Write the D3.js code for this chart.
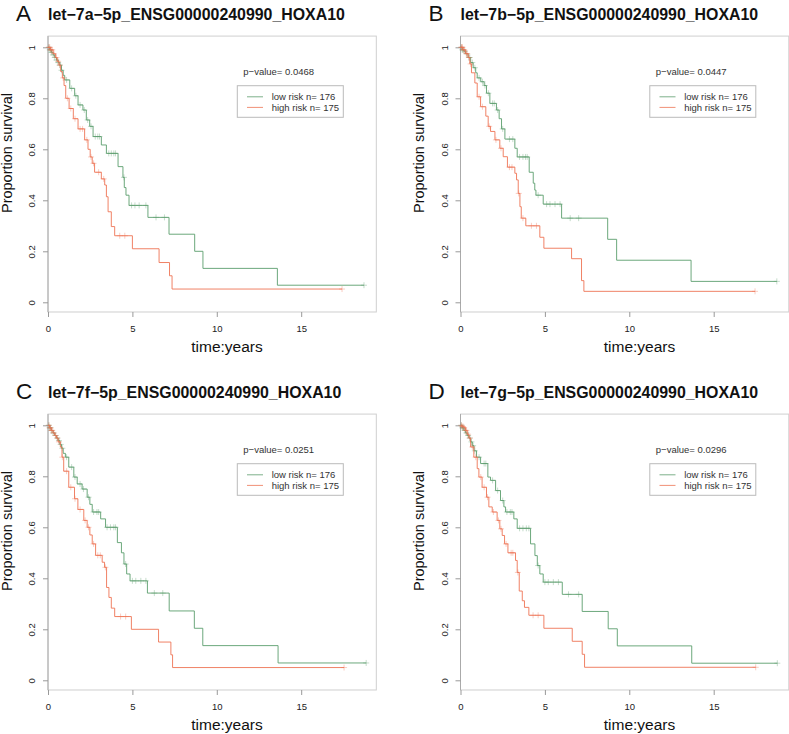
<!DOCTYPE html>
<html><head><meta charset="utf-8">
<script src="https://cdn.jsdelivr.net/npm/d3@7/dist/d3.min.js"></script>
<style>body{margin:0;background:#fff} svg{display:block} text{font-family:"Liberation Sans",Arial,sans-serif}</style>
</head><body><svg id="c" width="789" height="734"></svg>
<script>
const panelLetters = ["A","B","C","D"];
const panelTitles = ["let\u22127a\u22125p_ENSG00000240990_HOXA10","let\u22127b\u22125p_ENSG00000240990_HOXA10","let\u22127f\u22125p_ENSG00000240990_HOXA10","let\u22127g\u22125p_ENSG00000240990_HOXA10"];
const pValues = ["0.0468","0.0447","0.0251","0.0296"];
const xTickValues = [0,5,10,15];
const yTickValues = [0,0.2,0.4,0.6,0.8,1];
const legendLabels = ["low risk n= 176","high risk n= 175"];
const xLabel = "time:years";
const yLabel = "Proportion survival";

// Panel A
const aLowT = [0.1,0.2,0.3,0.4,0.5,0.6,0.7,0.8,0.9,0.99,1.29,1.58,1.78,2.07,2.27,2.47,2.67,3.16,3.46,4.15,4.44,4.52,4.62,4.8,5.92,7.17,8.69,9.18,13.59];
const aLowS = [0.99,0.98,0.97,0.96,0.95,0.94,0.93,0.91,0.89,0.872,0.839,0.81,0.774,0.754,0.715,0.69,0.65,0.617,0.584,0.532,0.49,0.45,0.42,0.38,0.333,0.267,0.20,0.133,0.067];
const aLowEnd = 18.72;
const aLowC = [0.05,0.1,0.15,0.2,0.3,0.4,0.5,0.6,0.7,0.8,1.1,1.4,1.65,1.9,2.15,2.35,2.55,2.8,2.95,3.05,3.6,3.75,3.9,4.0,4.5,4.95,5.15,5.4,5.8,6.4,6.9,18.72];
const aHighT = [0.15,0.3,0.45,0.55,0.65,0.75,0.85,0.95,1.05,1.25,1.5,1.78,2.17,2.37,2.5,2.62,2.76,3.16,3.36,3.46,3.56,3.75,3.95,5.0,6.58,7.2,7.35];
const aHighS = [0.99,0.975,0.96,0.945,0.93,0.905,0.88,0.85,0.80,0.76,0.72,0.68,0.637,0.60,0.57,0.545,0.51,0.484,0.46,0.414,0.355,0.297,0.261,0.21,0.156,0.104,0.052];
const aHighEnd = 17.42;
const aHighC = [0.05,0.1,0.15,0.2,0.25,0.35,0.5,0.6,0.7,0.9,1.15,1.35,1.6,1.9,2.05,2.3,2.55,2.7,3.0,3.3,4.25,4.55,17.42];

// Panel B
const bLowT = [0.1,0.2,0.3,0.45,0.6,0.75,0.9,0.99,1.2,1.4,1.54,1.74,2.13,2.29,2.43,2.63,3.22,3.36,4.07,4.31,4.4,4.47,4.9,5.99,8.72,9.25,13.66];
const bLowS = [0.99,0.985,0.975,0.96,0.94,0.92,0.90,0.88,0.865,0.85,0.82,0.78,0.754,0.72,0.68,0.64,0.604,0.57,0.51,0.467,0.44,0.42,0.385,0.33,0.247,0.165,0.082];
const bLowEnd = 18.74;
const bLowC = [0.05,0.1,0.15,0.25,0.35,0.5,0.55,0.7,0.85,1.1,1.3,1.45,1.65,1.9,2.0,2.2,2.5,2.9,3.1,3.5,3.7,3.85,3.95,4.6,5.1,5.3,5.6,5.9,6.5,7.0,18.74];
const bHighT = [0.15,0.3,0.45,0.55,0.65,0.85,0.99,1.19,1.5,1.64,1.78,2.04,2.33,2.53,2.78,3.22,3.32,3.42,3.52,3.6,3.87,4.70,4.94,6.58,7.17,7.31];
const bHighS = [0.99,0.975,0.96,0.935,0.90,0.86,0.806,0.767,0.73,0.69,0.67,0.637,0.604,0.571,0.53,0.506,0.48,0.427,0.375,0.33,0.30,0.255,0.212,0.171,0.085,0.043];
const bHighEnd = 17.45;
const bHighC = [0.05,0.08,0.12,0.18,0.22,0.35,0.4,0.5,0.6,1.1,1.3,1.7,2.1,2.4,2.9,3.05,3.45,3.7,4.2,4.5,17.45];

// Panel C
const cLowT = [0.1,0.2,0.3,0.4,0.5,0.6,0.7,0.8,0.9,1.03,1.23,1.53,1.73,2.02,2.32,2.48,2.62,3.12,3.41,4.11,4.35,4.5,4.66,4.86,5.89,7.18,8.67,9.17,13.63];
const cLowS = [0.99,0.98,0.97,0.96,0.95,0.94,0.925,0.91,0.89,0.875,0.836,0.797,0.77,0.75,0.718,0.69,0.66,0.633,0.60,0.54,0.50,0.456,0.417,0.39,0.342,0.272,0.204,0.136,0.068];
const cLowEnd = 18.85;
const cLowC = [0.05,0.1,0.15,0.2,0.3,0.45,0.55,0.65,0.75,0.85,1.1,1.4,1.6,1.9,2.1,2.4,2.7,2.9,3.0,3.5,3.7,3.9,4.0,4.6,5.0,5.2,5.5,5.8,6.3,6.8,18.85];
const cHighT = [0.1,0.2,0.3,0.4,0.5,0.6,0.73,0.83,0.93,1.23,1.57,1.77,2.12,2.32,2.48,2.62,2.82,3.21,3.35,3.47,3.61,3.75,3.95,4.94,6.55,7.28,7.38];
const cHighS = [0.99,0.98,0.97,0.96,0.95,0.935,0.915,0.875,0.82,0.757,0.712,0.67,0.627,0.60,0.57,0.535,0.49,0.463,0.443,0.364,0.325,0.283,0.25,0.20,0.15,0.10,0.05];
const cHighEnd = 17.54;
const cHighC = [0.05,0.1,0.15,0.2,0.25,0.35,0.45,0.55,0.65,0.85,1.1,1.35,1.6,1.9,2.2,2.4,2.7,2.95,3.1,3.4,4.3,4.6,17.54];

// Panel D
const dLowT = [0.1,0.2,0.3,0.4,0.5,0.6,0.7,0.8,0.95,1.19,1.62,1.78,2.08,2.37,2.57,2.67,3.16,3.36,4.15,4.41,4.55,4.70,4.90,6.03,7.21,8.75,9.29,13.70];
const dLowS = [0.99,0.98,0.97,0.96,0.95,0.935,0.92,0.90,0.875,0.85,0.797,0.784,0.744,0.705,0.68,0.66,0.633,0.596,0.535,0.489,0.45,0.417,0.385,0.337,0.27,0.202,0.135,0.067];
const dLowEnd = 18.77;
const dLowC = [0.05,0.1,0.15,0.25,0.35,0.45,0.55,0.65,0.75,0.85,1.1,1.4,1.5,1.9,2.2,2.5,2.75,2.95,3.05,3.5,3.7,3.9,4.05,4.6,5.0,5.2,5.5,5.8,6.4,7.0,18.77];
const dHighT = [0.1,0.2,0.3,0.4,0.5,0.6,0.79,0.99,1.09,1.28,1.54,1.68,1.88,2.17,2.33,2.47,2.61,2.81,3.26,3.36,3.48,3.66,3.79,4.05,4.94,6.62,7.21,7.35];
const dHighS = [0.995,0.99,0.98,0.965,0.95,0.915,0.875,0.83,0.797,0.757,0.718,0.68,0.66,0.627,0.594,0.568,0.535,0.50,0.47,0.423,0.35,0.312,0.286,0.255,0.204,0.153,0.102,0.051];
const dHighEnd = 17.49;
const dHighC = [0.05,0.1,0.15,0.22,0.3,0.35,0.45,0.55,0.7,0.9,1.2,1.4,1.6,1.95,2.25,2.4,2.7,3.0,3.1,3.4,4.3,4.6,17.49];

const lowSeries = [
  {t:aLowT,s:aLowS,end:aLowEnd,c:aLowC},{t:bLowT,s:bLowS,end:bLowEnd,c:bLowC},
  {t:cLowT,s:cLowS,end:cLowEnd,c:cLowC},{t:dLowT,s:dLowS,end:dLowEnd,c:dLowC}];
const highSeries = [
  {t:aHighT,s:aHighS,end:aHighEnd,c:aHighC},{t:bHighT,s:bHighS,end:bHighEnd,c:bHighC},
  {t:cHighT,s:cHighS,end:cHighEnd,c:cHighC},{t:dHighT,s:dHighS,end:dHighEnd,c:dHighC}];

const colLow = "#5c9e6e", colHigh = "#ee7455";
const offsets = [[0,0],[412.5,0],[0,378],[412.5,378]];

const svg = d3.select("#c");
const x = d3.scaleLinear().domain([0,19.45]).range([48,376.3]);
const y = d3.scaleLinear().domain([0,1]).range([302.3,47.3]);
const yTop = 1.044, yBot = -0.038;

function survAt(ser, t){
  const i = d3.bisectRight(ser.t, t);
  return i === 0 ? 1 : ser.s[i-1];
}
function points(ser){
  const p = [[0,1]];
  ser.t.forEach((t,i)=>p.push([t, ser.s[i]]));
  p.push([ser.end, ser.s[ser.s.length-1]]);
  return p;
}
const line = d3.line().x(d=>x(d[0])).y(d=>y(d[1])).curve(d3.curveStepAfter);

panelLetters.forEach((L, k)=>{
  const g = svg.append("g").attr("transform", `translate(${offsets[k][0]},${offsets[k][1]})`);
  g.append("rect").attr("x", x(0)).attr("y", y(yTop))
    .attr("width", x(19.45)-x(0)).attr("height", y(yBot)-y(yTop))
    .attr("fill","none").attr("stroke","#cfcfcf").attr("stroke-width",1);

  const xa = g.append("g").attr("transform", `translate(0,${y(yBot)})`)
    .call(d3.axisBottom(x).tickValues(xTickValues).tickSize(5).tickPadding(8).tickFormat(d3.format("d")));
  xa.select(".domain").remove();
  xa.selectAll("line").attr("stroke","#999");
  xa.selectAll("text").attr("font-size","9.5px").attr("fill","#222").attr("font-family","Liberation Sans, Arial, sans-serif");

  const ya = g.append("g").attr("transform", `translate(${x(0)},0)`)
    .call(d3.axisLeft(y).tickValues(yTickValues).tickSize(5).tickFormat(d=>d===0?"0":d===1?"1":d3.format(".1f")(d)));
  ya.select(".domain").attr("d", `M0,${y(yTop)}V${y(yBot)}`).attr("stroke","#aaa");
  ya.selectAll("line").attr("stroke","#999");
  ya.selectAll("text").attr("transform","rotate(-90)").attr("x",0).attr("y",-13).attr("dy","0")
    .attr("text-anchor","middle").attr("font-size","9.5px").attr("fill","#222").attr("font-family","Liberation Sans, Arial, sans-serif");

  [[lowSeries[k], colLow],[highSeries[k], colHigh]].forEach(([ser,col])=>{
    g.append("path").attr("d", line(points(ser))).attr("fill","none")
      .attr("stroke",col).attr("stroke-width",1).attr("stroke-opacity",0.9);
    g.append("g").selectAll("path").data(ser.c).join("path")
      .attr("d", d=>{const px=x(d), py=y(survAt(ser,d)); return `M${px-3},${py}H${px+3}M${px},${py-3}V${py+3}`;})
      .attr("stroke",col).attr("stroke-width",0.8).attr("stroke-opacity",0.45).attr("fill","none");
  });

  g.append("text").attr("x",16).attr("y",21).attr("font-size","22.5px").attr("fill","#111").text(L);
  g.append("text").attr("x",48).attr("y",19.8).attr("font-size","15.9px").attr("font-weight","bold").attr("fill","#111").text(panelTitles[k]);

  g.append("text").attr("x",227).attr("y",352).attr("text-anchor","middle").attr("font-size","15.5px").attr("fill","#111").text(xLabel);
  g.append("text").attr("transform","translate(11.5,153) rotate(-90)").attr("text-anchor","middle")
    .attr("font-size","14.5px").attr("fill","#111").text(yLabel);

  g.append("text").attr("x",243.3).attr("y",75).attr("font-size","9.5px").attr("fill","#333").text("p\u2212value= " + pValues[k]);
  g.append("rect").attr("x",237.3).attr("y",85.7).attr("width",106).attr("height",31.6)
    .attr("fill","#fff").attr("stroke","#bbb").attr("stroke-width",1);
  [colLow, colHigh].forEach((col,i)=>{
    const ly = 96.8 + i*10.6;
    g.append("line").attr("x1",247).attr("x2",263).attr("y1",ly).attr("y2",ly).attr("stroke",col).attr("stroke-width",1).attr("stroke-opacity",0.8);
    g.append("text").attr("x",271.7).attr("y",ly+3.4).attr("font-size","9.5px").attr("fill","#333").text(legendLabels[i]);
  });
});
</script></body></html>
